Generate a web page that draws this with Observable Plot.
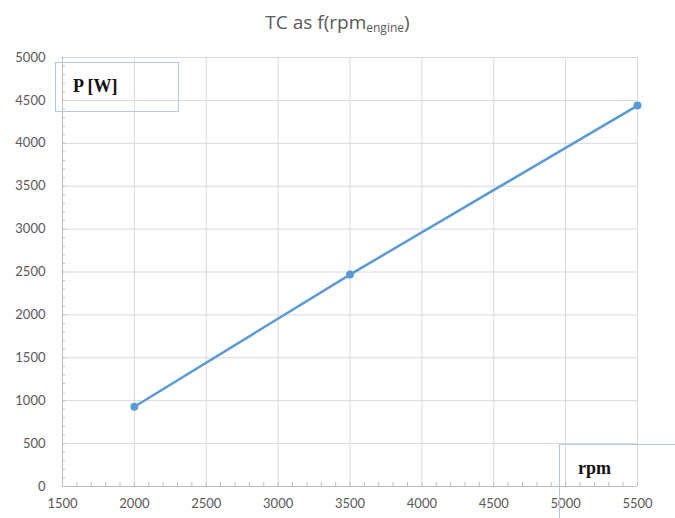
<!DOCTYPE html>
<html><head><meta charset="utf-8">
<script src="https://cdn.jsdelivr.net/npm/d3@7"></script>
<script src="https://cdn.jsdelivr.net/npm/@observablehq/plot@0.6"></script>
<style>
body{margin:0;background:#fff;width:675px;height:518px;overflow:hidden;position:relative;font-family:Lato,"Open Sans",sans-serif;}
#title{height:40px;line-height:44px;text-align:center;color:#595959;font-size:19px;font-family:"Open Sans",Lato,sans-serif;}
#title sub{font-size:12px;vertical-align:-3px;}
.box{position:absolute;border-top:1px solid #b4c7e7;border-left:1px solid #b4c7e7;font-family:"Liberation Serif","DejaVu Serif",serif;font-weight:bold;font-size:18px;color:#111;}
</style></head><body>
<div id="title">TC as f(rpm<sub>engine</sub>)</div>
<div id="chart"></div>
<div class="box" style="left:55px;top:62px;width:122px;height:48px;border-right:1px solid #b4c7e7;border-bottom:1px solid #b4c7e7;"><span style="position:absolute;left:17px;top:13px;">P [W]</span></div>
<div class="box" style="left:559px;top:444px;width:140px;height:100px;"><span style="position:absolute;left:18px;top:13px;">rpm</span></div>
<script>
const rpm = [2000, 3500, 5500];
const power = [930, 2470, 4440];
const xTicks = [1500, 2000, 2500, 3000, 3500, 4000, 4500, 5000, 5500];
const yTicks = [0, 500, 1000, 1500, 2000, 2500, 3000, 3500, 4000, 4500, 5000];
const xMinor = d3.range(1500, 5501, 100);
const yMinor = d3.range(0, 5001, 100);
const data = rpm.map((r, i) => ({rpm: r, p: power[i]}));
const chart = Plot.plot({
  width: 675, height: 478,
  marginLeft: 62, marginRight: 38, marginTop: 17, marginBottom: 32,
  style: {fontFamily: "Lato, 'Open Sans', sans-serif", fontSize: "13px", color: "#595959", background: "#fff"},
  x: {domain: [1500, 5500]},
  y: {domain: [0, 5000]},
  marks: [
    Plot.gridX(xTicks, {stroke: "#d9d9d9", strokeOpacity: 1}),
    Plot.gridY(yTicks, {stroke: "#d9d9d9", strokeOpacity: 1}),
    Plot.axisX(xMinor, {tickSize: -4, tickFormat: () => "", label: null, stroke: "#bfbfbf"}),
    Plot.axisY(yMinor, {tickSize: -3, tickFormat: () => "", label: null, stroke: "#bfbfbf"}),
    Plot.axisX(xTicks, {tickSize: 0, tickPadding: 12, tickFormat: "d", label: null, fill: "#595959", fontSize: 13}),
    Plot.axisY(yTicks, {tickSize: 0, tickPadding: 17, tickFormat: "d", label: null, fill: "#595959", fontSize: 13}),
    Plot.ruleY([0], {stroke: "#bfbfbf"}),
    Plot.ruleX([1500], {stroke: "#bfbfbf"}),
    Plot.line(data, {x: "rpm", y: "p", stroke: "#5b9bd5", strokeWidth: 2.5}),
    Plot.dot(data, {x: "rpm", y: "p", r: 4, fill: "#5b9bd5"})
  ]
});
document.getElementById("chart").appendChild(chart);
</script>
</body></html>
